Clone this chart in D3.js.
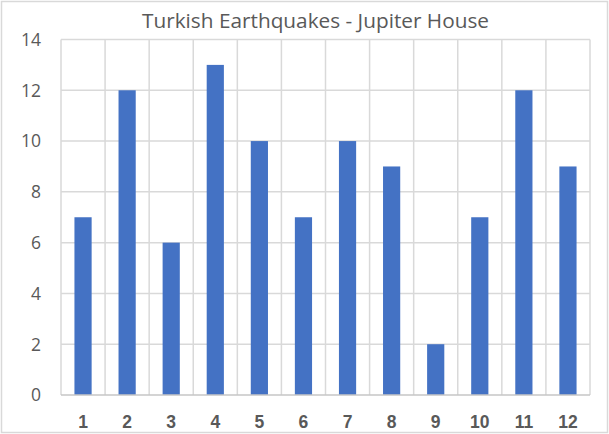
<!DOCTYPE html>
<html lang="en">
<head>
<meta charset="UTF-8">
<title>Turkish Earthquakes - Jupiter House</title>
<script src="https://d3js.org/d3.v7.min.js"></script>
<style>
    body { margin: 0; padding: 0; background: #fff; }
    .title { font-family: "Open Sans", sans-serif; font-size: 20.5px; fill: #595959; }
    .ytick { font-family: "Open Sans", sans-serif; font-size: 17.5px; fill: #595959; }
    .xtick { font-family: "Liberation Sans", sans-serif; font-size: 17.5px; font-weight: bold; fill: #595959; }
    .grid { stroke: #d9d9d9; stroke-width: 1.5px; }
</style>
</head>
<body>
<div id="chart"></div>
<script>
    const categories = ["1", "2", "3", "4", "5", "6", "7", "8", "9", "10", "11", "12"];
    const counts = [7, 12, 6, 13, 10, 7, 10, 9, 2, 7, 12, 9];
    const yTicks = [0, 2, 4, 6, 8, 10, 12, 14];

    const width = 609, height = 434;
    const margin = { top: 39.5, right: 19, bottom: 39, left: 61 };

    const svg = d3.select("#chart")
        .append("svg")
        .attr("width", width)
        .attr("height", height);

    // chart frame
    svg.append("rect")
        .attr("x", 1.5).attr("y", 1.5)
        .attr("width", width - 3).attr("height", height - 3)
        .attr("fill", "#fff")
        .attr("stroke", "#d9d9d9")
        .attr("stroke-width", 1.5);

    const x = d3.scaleBand()
        .domain(categories)
        .range([margin.left, width - margin.right])
        .paddingInner(0.61)
        .paddingOuter(0.305);

    const y = d3.scaleLinear()
        .domain([0, 14])
        .range([height - margin.bottom, margin.top]);

    const step = (width - margin.right - margin.left) / categories.length;

    // horizontal gridlines
    svg.append("g").selectAll("line")
        .data(yTicks.filter(d => d > 0))
        .enter().append("line")
        .attr("class", "grid")
        .attr("x1", margin.left).attr("x2", width - margin.right)
        .attr("y1", d => y(d)).attr("y2", d => y(d));

    // vertical gridlines between categories
    svg.append("g").selectAll("line")
        .data(d3.range(categories.length + 1))
        .enter().append("line")
        .attr("class", "grid")
        .attr("x1", i => margin.left + i * step).attr("x2", i => margin.left + i * step)
        .attr("y1", y(14)).attr("y2", y(0));

    // bars
    svg.append("g").selectAll("rect")
        .data(counts)
        .enter().append("rect")
        .attr("x", (d, i) => x(categories[i]))
        .attr("y", d => y(d))
        .attr("width", x.bandwidth())
        .attr("height", d => y(0) - y(d))
        .attr("fill", "#4472c4");

    // category axis line
    svg.append("line")
        .attr("x1", margin.left).attr("x2", width - margin.right)
        .attr("y1", y(0)).attr("y2", y(0))
        .attr("stroke", "#c6c6c6")
        .attr("stroke-width", 1.5);

    // y tick labels
    svg.append("g").selectAll("text")
        .data(yTicks)
        .enter().append("text")
        .attr("class", "ytick")
        .attr("x", 41)
        .attr("y", d => y(d))
        .attr("dy", "0.36em")
        .attr("text-anchor", "end")
        .text(d => d);

    // x tick labels
    svg.append("g").selectAll("text")
        .data(categories)
        .enter().append("text")
        .attr("class", "xtick")
        .attr("x", d => x(d) + x.bandwidth() / 2)
        .attr("y", 428)
        .attr("text-anchor", "middle")
        .text(d => d);

    svg.append("text")
        .attr("class", "title")
        .attr("x", 315.5)
        .attr("y", 28)
        .attr("text-anchor", "middle")
        .attr("textLength", 347)
        .attr("lengthAdjust", "spacingAndGlyphs")
        .text("Turkish Earthquakes - Jupiter House");
</script>
</body>
</html>
